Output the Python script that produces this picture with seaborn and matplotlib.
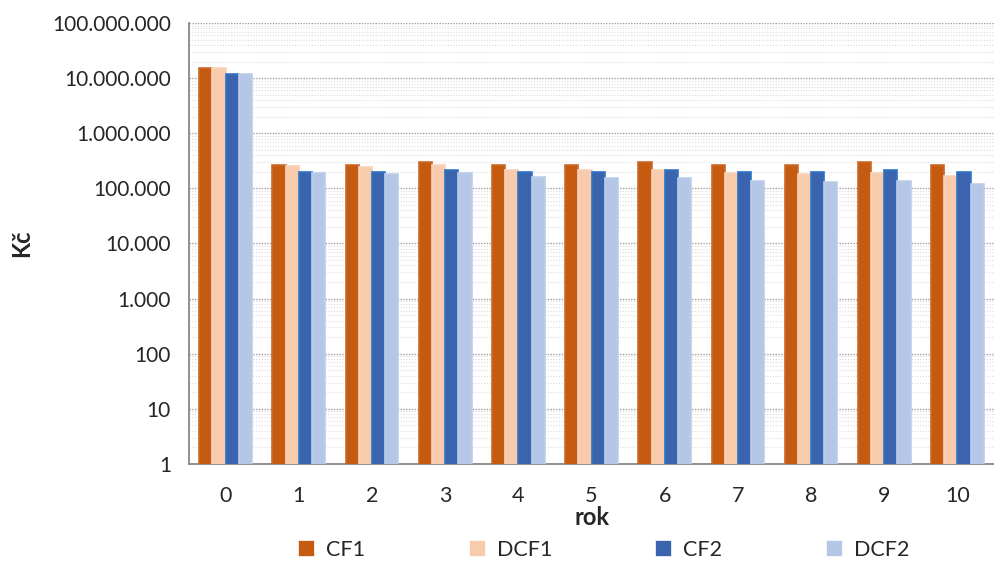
import pandas as pd
import seaborn as sns
import matplotlib.pyplot as plt
from matplotlib.ticker import FuncFormatter, LogLocator, FixedLocator, NullFormatter

# values (Kč)
years = ["0", "1", "2", "3", "4", "5", "6", "7", "8", "9", "10"]
cf1 = [15200000, 262000, 262000, 297000, 262000, 262000, 297000, 262000, 262000, 297000, 262000]
dcf1 = [15200000, 256000, 248000, 262000, 219000, 219000, 219000, 193000, 180000, 193000, 168000]
cf2 = [11700000, 200000, 200000, 215000, 200000, 200000, 215000, 200000, 200000, 215000, 200000]
dcf2 = [11700000, 188000, 180000, 188000, 159000, 157000, 157000, 138000, 130000, 138000, 122000]
series = ["CF1", "DCF1", "CF2", "DCF2"]

df = pd.DataFrame({"rok": years, "CF1": cf1, "DCF1": dcf1, "CF2": cf2, "DCF2": dcf2})
long = df.melt(id_vars="rok", var_name="serie", value_name="Kc")

sns.set_theme(style="white")
plt.rcParams["font.family"] = ["Lato", "DejaVu Sans"]

colors = ["#C55A11", "#F8CBAD", "#3A64AD", "#B4C7E7"]
edges = ["#CC6A2A", "#F9D2B8", "#2E75C6", "#BCCDEA"]

fig = plt.figure(figsize=(9.95, 5.63), dpi=100)
ax = fig.add_axes([0.19, 0.176, 0.809, 0.783])
ax.set_yscale("log")

sns.barplot(data=long, x="rok", y="Kc", hue="serie", hue_order=series,
            palette=colors, saturation=1, width=0.72, gap=0, ax=ax,
            zorder=3, linewidth=1.2)
for cont, ec in zip(ax.containers, edges):
    for bar in cont:
        bar.set_edgecolor(ec)

ax.set_ylim(1, 1e8)
ax.set_xlim(-0.5, 10.5)

# y axis: decades with dotted major / minor grid
ax.yaxis.set_major_locator(LogLocator(base=10, numticks=20))
ax.yaxis.set_minor_locator(LogLocator(base=10, subs=range(2, 10), numticks=20))
ax.yaxis.set_major_formatter(FuncFormatter(lambda v, p: f"{int(round(v)):,}".replace(",", ".")))
ax.yaxis.set_minor_formatter(NullFormatter())
ax.grid(which="major", axis="y", color="#A0A0A0", linestyle=(0, (1, 1)), linewidth=1.0, zorder=0)
ax.grid(which="minor", axis="y", color="#DDDDDD", linestyle=(0, (1, 1.5)), linewidth=0.8, zorder=0)
ax.tick_params(axis="y", which="major", length=7, width=1.2, color="#888888", labelsize=15, pad=6)
ax.tick_params(axis="y", which="minor", length=0)

# x axis: labels at centres, ticks at category boundaries
ax.xaxis.set_minor_locator(FixedLocator([i - 0.5 for i in range(len(years) + 1)]))
ax.tick_params(axis="x", which="major", length=0, labelsize=15.5, pad=16)
ax.tick_params(axis="x", which="minor", length=9, width=1.0, color="#888888", direction="out")

for side in ["top", "right"]:
    ax.spines[side].set_visible(False)
for side in ["left", "bottom"]:
    ax.spines[side].set_color("#888888")
    ax.spines[side].set_linewidth(1.3)

ax.set_xlabel("rok", fontsize=17, fontweight="bold", labelpad=0)
ax.set_ylabel("Kč", fontsize=17, fontweight="bold", labelpad=14)

handles, labels = ax.get_legend_handles_labels()
ax.legend(handles, labels, loc="center", bbox_to_anchor=(0.515, -0.195), ncol=4,
          frameon=False, fontsize=15.5, handlelength=0.8, handleheight=0.8,
          handletextpad=0.5, columnspacing=4.8, borderpad=0)

fig.savefig("out.png", dpi=100)
